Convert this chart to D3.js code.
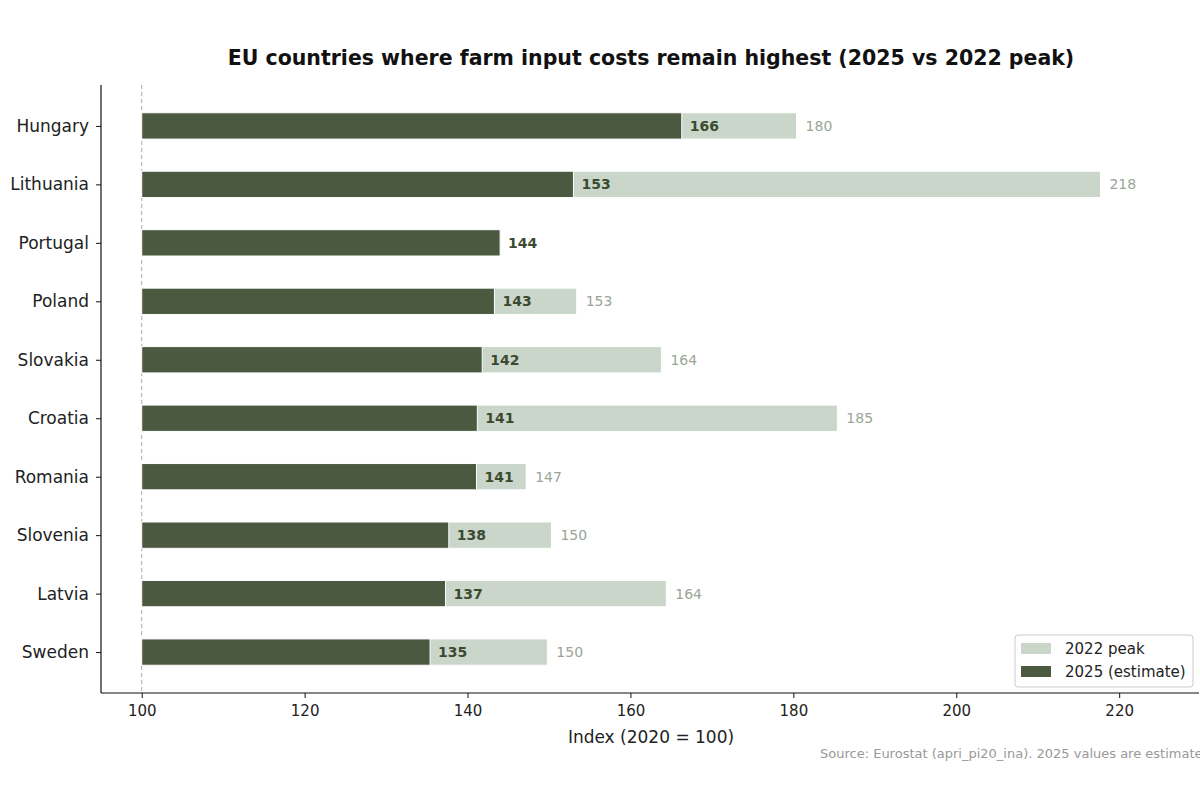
<!DOCTYPE html>
<html>
<head>
<meta charset="utf-8">
<script src="https://cdn.jsdelivr.net/npm/d3@7"></script>
<style>
	body { margin: 0; background: white; }
	svg { font-family: 'DejaVu Sans', sans-serif; }
</style>
</head>
<body>
<div id="chart"></div>
<script>
// data
var countries = ['Hungary', 'Lithuania', 'Portugal', 'Poland', 'Slovakia', 'Croatia', 'Romania', 'Slovenia', 'Latvia', 'Sweden'];
var value_2025 = [166.3, 153.0, 144.0, 143.3, 141.8, 141.2, 141.1, 137.7, 137.3, 135.4];
var peak_2022 = [180.4, 217.7, 144.0, 153.4, 163.8, 185.4, 147.2, 150.3, 164.4, 149.8];
var x_ticks = [100, 120, 140, 160, 180, 200, 220];

var dark = '#4a5940';
var dark_text = '#3b4a30';
var light = '#c9d6c9';
var light_text = '#9aa596';

var margin = {top: 85, right: 1, bottom: 107, left: 101};
var width = 1200 - margin.left - margin.right;
var height = 800 - margin.top - margin.bottom;

var svg = d3.select('#chart')
	.append('svg')
	.attr('width', 1200)
	.attr('height', 800);

// title
svg.append('text')
	.attr('x', 651)
	.attr('y', 65)
	.attr('text-anchor', 'middle')
	.style('font-size', '20.5px')
	.style('font-weight', 'bold')
	.style('fill', '#111')
	.text('EU countries where farm input costs remain highest (2025 vs 2022 peak)');

var g = svg.append('g')
	.attr('transform', 'translate(' + margin.left + ',' + margin.top + ')');

var x = d3.scaleLinear()
	.domain([95, 229.8])
	.range([0, width]);

var y = d3.scalePoint()
	.domain(countries)
	.range([0, height])
	.padding(0.7);

var bar_h = y.step() * 0.45;

var rows = countries.map(function(c, i) {
	return {country: c, now: value_2025[i], peak: peak_2022[i]};
});

// reference line at 100
g.append('line')
	.attr('x1', x(100)).attr('x2', x(100))
	.attr('y1', 0).attr('y2', height)
	.attr('stroke', '#aaaaaa')
	.attr('stroke-width', 1)
	.attr('stroke-dasharray', '4,3');

// 2022 peak bars
g.selectAll('.peak')
	.data(rows)
	.enter()
	.append('rect')
		.attr('class', 'peak')
		.attr('x', x(100))
		.attr('y', function(d) { return y(d.country) - bar_h / 2; })
		.attr('width', function(d) { return x(d.peak) - x(100); })
		.attr('height', bar_h)
		.attr('fill', light)
		.attr('stroke', 'white')
		.attr('stroke-width', 1);

// 2025 bars
g.selectAll('.now')
	.data(rows)
	.enter()
	.append('rect')
		.attr('class', 'now')
		.attr('x', x(100))
		.attr('y', function(d) { return y(d.country) - bar_h / 2; })
		.attr('width', function(d) { return x(d.now) - x(100); })
		.attr('height', bar_h)
		.attr('fill', dark)
		.attr('stroke', 'white')
		.attr('stroke-width', 1);

// value labels
g.selectAll('.now_label')
	.data(rows)
	.enter()
	.append('text')
		.attr('x', function(d) { return x(d.now) + 8; })
		.attr('y', function(d) { return y(d.country); })
		.attr('dy', '0.36em')
		.style('font-size', '14px')
		.style('font-weight', 'bold')
		.style('fill', dark_text)
		.text(function(d) { return Math.round(d.now); });

g.selectAll('.peak_label')
	.data(rows.filter(function(d) { return d.peak > d.now + 0.5; }))
	.enter()
	.append('text')
		.attr('x', function(d) { return x(d.peak) + 9; })
		.attr('y', function(d) { return y(d.country); })
		.attr('dy', '0.36em')
		.style('font-size', '14px')
		.style('fill', light_text)
		.text(function(d) { return Math.round(d.peak); });

// axes
var x_axis = g.append('g')
	.attr('transform', 'translate(0,' + height + ')')
	.call(d3.axisBottom(x).tickValues(x_ticks).tickSize(5).tickPadding(7));
var y_axis = g.append('g')
	.call(d3.axisLeft(y).tickSize(5).tickPadding(7));

[x_axis, y_axis].forEach(function(a) {
	a.select('.domain').attr('stroke', '#111').attr('stroke-width', 1.2);
	a.selectAll('.tick line').attr('stroke', '#111');
	a.selectAll('.tick text')
		.style('font-family', 'DejaVu Sans, sans-serif')
		.style('fill', '#222');
});
x_axis.selectAll('.tick text').style('font-size', '15px');
y_axis.selectAll('.tick text').style('font-size', '17px');
y_axis.select('.domain').attr('d', 'M0,0V' + height);
x_axis.select('.domain').attr('d', 'M0,0H' + width);

// axis label
svg.append('text')
	.attr('x', 651)
	.attr('y', 743)
	.attr('text-anchor', 'middle')
	.style('font-size', '17px')
	.style('fill', '#222')
	.text('Index (2020 = 100)');

// source note
svg.append('text')
	.attr('x', 820)
	.attr('y', 758)
	.style('font-size', '13px')
	.style('fill', '#999')
	.text('Source: Eurostat (apri_pi20_ina). 2025 values are estimates.');

// legend
var legend = svg.append('g')
	.attr('transform', 'translate(1015,635)');
legend.append('rect')
	.attr('width', 178)
	.attr('height', 52)
	.attr('rx', 3)
	.attr('fill', 'white')
	.attr('fill-opacity', 0.8)
	.attr('stroke', '#cccccc');
var legend_items = [{label: '2022 peak', color: light}, {label: '2025 (estimate)', color: dark}];
legend.selectAll('.swatch')
	.data(legend_items)
	.enter()
	.append('rect')
		.attr('x', 6)
		.attr('y', function(d, i) { return 8 + i * 23; })
		.attr('width', 30)
		.attr('height', 11)
		.attr('fill', function(d) { return d.color; });
legend.selectAll('.legend_label')
	.data(legend_items)
	.enter()
	.append('text')
		.attr('x', 50)
		.attr('y', function(d, i) { return 13.5 + i * 23; })
		.attr('dy', '0.36em')
		.style('font-size', '15px')
		.style('fill', '#222')
		.text(function(d) { return d.label; });
</script>
</body>
</html>
